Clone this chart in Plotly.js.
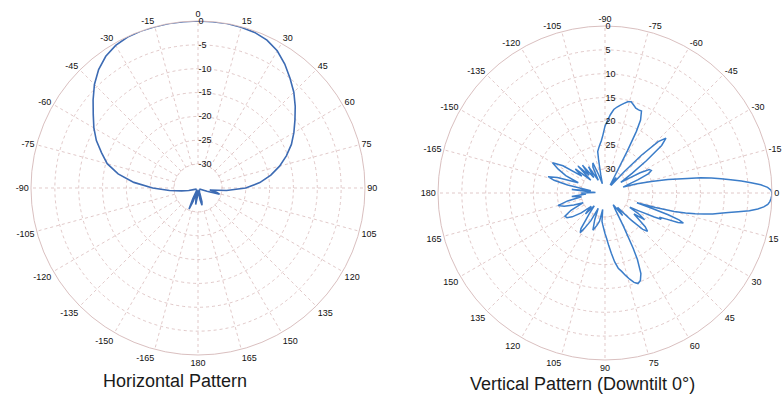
<!DOCTYPE html>
<html>
<head>
<meta charset="utf-8">
<script src="https://cdn.plot.ly/plotly-3.0.1.min.js"></script>
<style>
  html, body { margin: 0; padding: 0; background: #ffffff; }
  #chart { width: 782px; height: 402px; }
</style>
</head>
<body>
<div id="chart"></div>
<script>
// ---------- Data ----------
// Horizontal pattern: angle (deg, 0 = top, clockwise) and relative gain (dB)
const horizAngles = [-180,-175,-172,-168,-165,-160,-157,-154,-150,-140,-130,-120,-110,-105,-100,-95,-90,-85,-80,-75,-70,-65,-60,-55,-50,-45,-40,-35,-30,-25,-20,-15,-10,-5,0,5,10,15,20,25,30,35,40,45,50,55,60,65,70,75,80,85,90,95,100,103,106,110,120,130,140,150,160,164,167,170,173,176];
const horizGain = [-34,-33,-31.5,-33,-34.5,-32,-30.2,-32.5,-34.5,-34.5,-34.5,-34.5,-34,-33,-31.5,-29,-25.5,-21.5,-18,-15.3,-13.5,-11.5,-9.8,-8.2,-6.3,-4.3,-2.6,-1.3,-0.5,-0.1,0,0,0,0,0,0,0,-0.1,-0.3,-0.8,-1.8,-3.3,-5.0,-6.6,-8.4,-10.2,-11.8,-13.4,-15.3,-17.3,-19.5,-22,-25,-29,-32.5,-31,-30.3,-33,-34.5,-34.5,-34.5,-34.5,-34,-32,-31.3,-32.5,-34,-34.5];

// Vertical pattern: angle (deg, 0 = right, clockwise) and relative gain (dB)
const vertAngles = [-180,-177,-174,-171,-168,-166,-164,-162,-159,-156,-153,-150,-147,-144,-141,-138,-135,-132,-129,-126,-122,-118,-115,-112,-109,-106,-103,-101,-100,-98,-96,-94,-92,-90,-88,-86,-84,-82,-80,-78,-76,-74,-72,-70,-68,-66,-64,-63,-62,-60,-57,-54,-51,-48,-46,-44,-42,-40,-38,-36,-34,-32,-30,-28,-26,-24,-22,-20,-18,-16,-14,-12,-10,-9,-8,-7,-6,-5,-4,-3,-2,-1,0,1,2,3,4,5,6,7,8,9,10,11,12,13,14,15,16,17,18,19,20,21,22,23,24,25,26,28,30,32,34,36,38,40,42,44,46,49,52,55,58,61,63,64,66,68,70,72,74,76,78,80,82,84,86,88,90,92,94,96,98,101,104,108,111,114,117,120,122,124,127,130,133,136,140,144,147,150,153,156,159,162,165,168,171,174,177];
const vertGain = [-30,-33,-28,-32,-27,-24,-22.6,-24.5,-29,-26,-24,-22.3,-24.5,-29,-27,-31,-27,-30,-27.5,-31,-28.5,-32,-29,-28.2,-31,-33,-31,-28,-26.2,-25.5,-24.8,-24,-22.8,-21,-19.8,-18.5,-17.4,-16.8,-16.3,-15.8,-15.3,-15.1,-15.6,-16.1,-16.2,-16.2,-18,-20.5,-25,-31,-33,-31,-33,-29,-24,-19.5,-17.8,-19.5,-24,-28,-31,-29.5,-26.5,-24.5,-24.2,-25,-27.5,-30,-31,-28,-25,-21.5,-17.5,-14.7,-12.5,-10.5,-8.5,-6.3,-4.3,-2.3,-0.9,-0.2,0,-0.05,-0.2,-0.4,-0.8,-1.6,-2.8,-4.5,-6.8,-8.8,-10.5,-12,-13.8,-15.6,-17.6,-20,-24,-28,-25,-21,-18.5,-17.4,-18.5,-21,-22.5,-22,-23.5,-27,-29,-26.5,-25,-27.5,-26,-24,-23,-24,-27,-31,-29,-32,-31,-27,-22,-19.5,-16.5,-15.2,-14.8,-15.3,-16.2,-17.2,-18.2,-19,-20.4,-22.3,-24,-25.5,-26.5,-27.5,-28.3,-29,-31.5,-29,-28,-26.8,-29,-31.5,-28.5,-26.5,-25.2,-26,-29.5,-31.5,-29,-31,-28.5,-26.5,-25.5,-25.3,-27,-30,-28,-26,-24.8,-27,-30,-28,-31];

// Tick labels
const angleTicks = [0,15,30,45,60,75,90,105,120,135,150,165,180,195,210,225,240,255,270,285,300,315,330,345];
const angleLabels = ["0","15","30","45","60","75","90","105","120","135","150","165","180","-165","-150","-135","-120","-105","-90","-75","-60","-45","-30","-15"];
const radialTicks = [0,-5,-10,-15,-20,-25,-30];
const horizRadialLabels = ["0","-5","-10","-15","-20","-25","-30"];
const vertRadialLabels = ["0","5","10","15","20","25","30"];
const titles = ["Horizontal Pattern", "Vertical Pattern (Downtilt 0°)"];

// ---------- Build ----------
function closed(arr) { return arr.concat([arr[0]]); }

const gridColor = "rgba(205,165,165,0.6)";
const tickFont = { family: "Liberation Sans, Arial, sans-serif", size: 9, color: "#111111" };

// inner ring (spokes start at the innermost grid ring)
const innerR = Math.min.apply(null, radialTicks);
const ringTheta = [];
for (let a = 0; a <= 360; a += 3) ringTheta.push(a);
const ringR = ringTheta.map(() => innerR);

function angular(rotation) {
  return {
    rotation: rotation,
    direction: "clockwise",
    tickmode: "array",
    tickvals: angleTicks,
    ticktext: angleLabels,
    tickfont: tickFont,
    ticks: "",
    showline: true,
    linecolor: "rgba(210,180,180,0.85)",
    linewidth: 1,
    gridcolor: gridColor,
    griddash: "dot",
    gridwidth: 1
  };
}
function radial(labels) {
  return {
    range: [-35, 0],
    tickmode: "array",
    tickvals: radialTicks,
    ticktext: labels,
    tickfont: tickFont,
    angle: 90,
    tickangle: 90,
    ticks: "",
    showline: false,
    gridcolor: gridColor,
    griddash: "dot",
    gridwidth: 1
  };
}

function ring(subplot) {
  return {
    type: "scatterpolar", mode: "lines",
    theta: ringTheta, r: ringR,
    fill: "toself", fillcolor: "#ffffff",
    line: { color: gridColor, width: 1, dash: "dot" },
    subplot: subplot, hoverinfo: "skip"
  };
}

const traces = [
  ring("polar"),
  ring("polar2"),
  {
    type: "scatterpolar", mode: "lines",
    theta: closed(horizAngles), r: closed(horizGain),
    line: { color: "#3d6bb3", width: 1.6 },
    subplot: "polar", hoverinfo: "skip"
  },
  {
    type: "scatterpolar", mode: "lines",
    theta: closed(vertAngles), r: closed(vertGain),
    line: { color: "#3b7dc9", width: 1.5 },
    subplot: "polar2", hoverinfo: "skip"
  }
];

const layout = {
  width: 782, height: 402,
  margin: { l: 0, r: 0, t: 0, b: 0 },
  paper_bgcolor: "#ffffff",
  showlegend: false,
  polar: {
    domain: { x: [0.0396, 0.4668], y: [0.1169, 0.9478] },
    bgcolor: "#ffffff",
    angularaxis: angular(90),
    radialaxis: radial(horizRadialLabels)
  },
  polar2: {
    domain: { x: [0.5601, 0.9872], y: [0.1045, 0.9353] },
    bgcolor: "#ffffff",
    angularaxis: angular(0),
    radialaxis: radial(vertRadialLabels)
  },
  annotations: [
    { text: titles[0], x: 175 / 782, y: 1 - 381 / 402, xref: "paper", yref: "paper",
      showarrow: false, xanchor: "center", yanchor: "middle",
      font: { family: "Liberation Sans, Arial, sans-serif", size: 18, color: "#1a1a1a" } },
    { text: titles[1], x: 582 / 782, y: 1 - 384 / 402, xref: "paper", yref: "paper",
      showarrow: false, xanchor: "center", yanchor: "middle",
      font: { family: "Liberation Sans, Arial, sans-serif", size: 18, color: "#1a1a1a" } }
  ]
};

Plotly.newPlot("chart", traces, layout, { staticPlot: true, displayModeBar: false });
</script>
</body>
</html>
